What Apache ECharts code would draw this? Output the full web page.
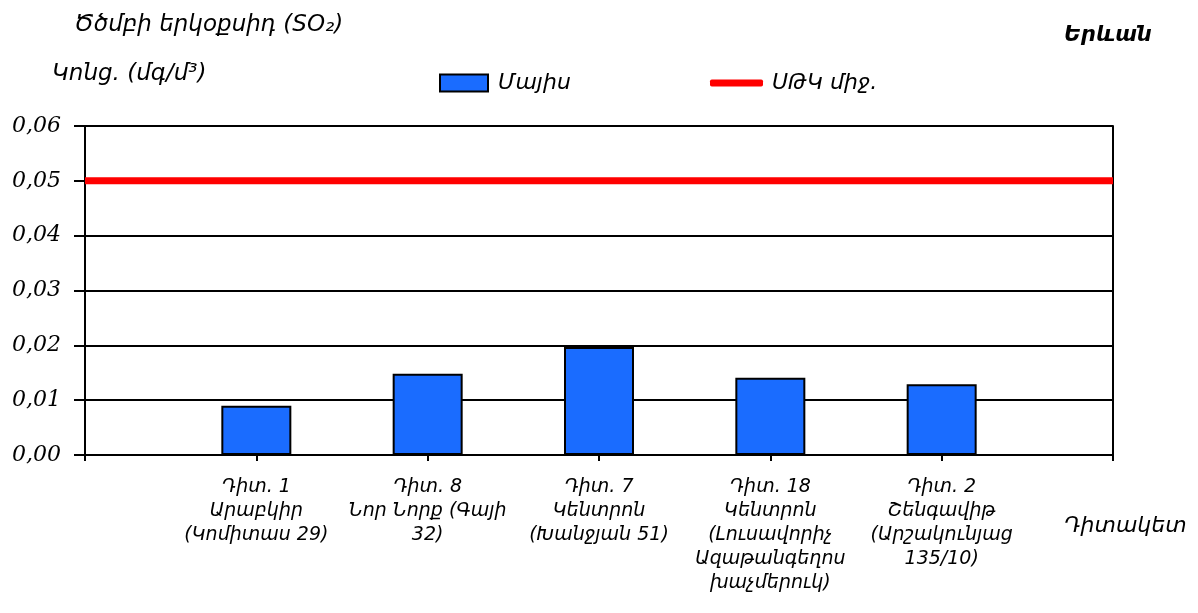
<!DOCTYPE html>
<html>
<head>
<meta charset="utf-8">
<script src="https://cdn.jsdelivr.net/npm/echarts@6/dist/echarts.min.js"></script>
<style>html,body{margin:0;padding:0;background:#fff}#c{width:1198px;height:613px}</style>
</head>
<body>
<div id="c"></div>
<script>
const categories = ['', 'Դիտ. 1\nԱրաբկիր\n(Կոմիտաս 29)', 'Դիտ. 8\nՆոր Նորք (Գայի\n32)', 'Դիտ. 7\nԿենտրոն\n(Խանջյան 51)', 'Դիտ. 18\nԿենտրոն\n(Լուսավորիչ\nԱզաթանգեղոս\nխաչմերուկ)', 'Դիտ. 2\nՇենգավիթ\n(Արշակունյաց\n135/10)', ''];
const mayValues = [null, 0.009, 0.0148, 0.0197, 0.0141, 0.0129, null];
const mpcValues = [0.05, 0.05, 0.05, 0.05, 0.05, 0.05, 0.05];
const seriesNames = ['Մայիս', 'ՍԹԿ միջ.'];
const titleText = 'Ծծմբի երկօքսիդ (SO₂)';
const unitText = 'Կոնց. (մգ/մ³)';
const cityText = 'Երևան';
const xName = 'Դիտակետ';

const FF = '"DejaVu Sans", "Liberation Serif", sans-serif';
const FN = '"DejaVu Serif", serif';
const chart = echarts.init(document.getElementById('c'), null, {renderer: 'canvas'});
chart.setOption({
  animation: false,
  backgroundColor: '#fff',
  title: [
    {text: titleText, left: 74, top: 14, padding: 0, textStyle: {fontFamily: FF, fontStyle: 'italic', fontWeight: 'normal', fontSize: 23, color: '#000'}},
    {text: unitText, left: 52, top: 63, padding: 0, textStyle: {fontFamily: FF, fontStyle: 'italic', fontWeight: 'normal', fontSize: 23, color: '#000'}},
    {text: cityText, left: 1064, top: 25, padding: 0, textStyle: {fontFamily: FF, fontStyle: 'italic', fontWeight: 'bold', fontSize: 21, color: '#000'}},
    {text: xName, left: 1064, top: 515, padding: 0, textStyle: {fontFamily: FF, fontStyle: 'italic', fontWeight: 'normal', fontSize: 22, color: '#000'}}
  ],
  legend: [
    {data: [{name: seriesNames[0], icon: 'rect'}], left: 439, top: 72, padding: 0, itemWidth: 48, itemHeight: 17, itemGap: 8,
     textStyle: {fontFamily: FF, fontStyle: 'italic', fontSize: 22, color: '#000', padding: [0, 0, 0, 5]}},
    {data: [{name: seriesNames[1], icon: 'roundRect'}], left: 710, top: 72, padding: 0, itemWidth: 53, itemHeight: 7, itemGap: 4,
     textStyle: {fontFamily: FF, fontStyle: 'italic', fontSize: 22, color: '#000', padding: [0, 0, 0, 4]}}
  ],
  grid: {left: 85, right: 85, top: 126, bottom: 158, containLabel: false},
  xAxis: {
    type: 'category', data: categories, boundaryGap: false,
    axisLine: {show: true, lineStyle: {color: '#000', width: 2}},
    axisTick: {show: true, length: 6, interval: 0, lineStyle: {color: '#000', width: 2}},
    axisLabel: {interval: 0, margin: 20, fontFamily: FF, fontStyle: 'italic', fontSize: 19, lineHeight: 24, color: '#000'},
    splitLine: {show: false}
  },
  yAxis: [
    {
      type: 'value', min: 0, max: 0.06, interval: 0.01,
      axisLine: {show: true, lineStyle: {color: '#000', width: 2}},
      axisTick: {show: true, length: 11, lineStyle: {color: '#000', width: 2}},
      axisLabel: {margin: 24, fontFamily: FN, fontStyle: 'italic', fontSize: 22, color: '#000',
        formatter: v => v.toFixed(2).replace('.', ',')},
      splitLine: {show: true, lineStyle: {color: '#000', width: 2}}
    },
    {
      type: 'value', min: 0, max: 0.06, interval: 0.01, position: 'right',
      axisLine: {show: true, lineStyle: {color: '#000', width: 2}},
      axisTick: {show: false}, axisLabel: {show: false}, splitLine: {show: false}
    }
  ],
  series: [
    {name: seriesNames[0], type: 'bar', data: mayValues, barWidth: 70,
     itemStyle: {color: '#1a6cff', borderColor: '#000', borderWidth: 2}},
    {name: seriesNames[1], type: 'line', data: mpcValues, symbol: 'none',
     lineStyle: {color: '#ff0000', width: 7}, itemStyle: {color: '#ff0000'}, z: 3}
  ]
});
</script>
</body>
</html>
